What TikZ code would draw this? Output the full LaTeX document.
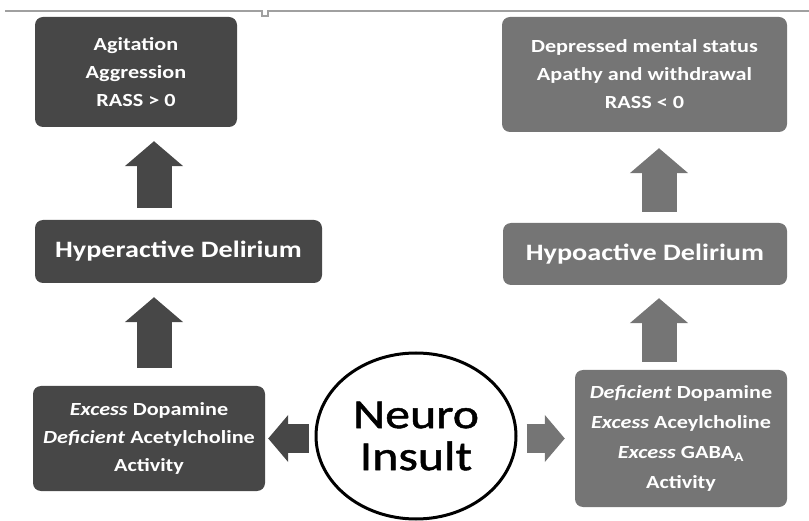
\documentclass[tikz,border=0pt]{standalone}
\usepackage{fontspec}
\setmainfont{Carlito}[FakeStretch=1.2]
\newfontfamily\neurofont{Carlito}[FakeStretch=1.2, FakeBold=1.2]
\usetikzlibrary{positioning,arrows.meta,shapes.geometric}

\definecolor{darkgrey}{HTML}{474747}
\definecolor{midgrey}{HTML}{757575}
\definecolor{rulegrey}{HTML}{A0A0A0}

\begin{document}
\begin{tikzpicture}[x=1pt, y=-1pt,
  box/.style={rounded corners=8pt, text=white, align=center, inner sep=0pt,
    font=\bfseries\fontsize{18.5}{28}\selectfont},
  darkbox/.style={box, fill=darkgrey},
  greybox/.style={box, fill=midgrey},
  headline/.style={font=\bfseries\fontsize{23.5}{28}\selectfont},
  uparrow/.style={line width=35pt, -{Triangle[length=25pt, width=57pt]}},
  sidearrow/.style={line width=29pt, -{Triangle[length=20pt, width=46pt]}}]

  \useasboundingbox (0,0) rectangle (809,521);

  % Thin rule along the top, with its small notch
  \draw[rulegrey, line width=1.5pt] (5,11) -- (262,11) -- (262,16) -- (268,16)
    -- (268,11) -- (809,11);

  % Left column (hyperactive)
  \node[darkbox, minimum width=202pt, minimum height=110pt] (agit) at (136,72)
    {Agitation\\Aggression\\RASS > 0};
  \node[darkbox, headline, minimum width=287pt, minimum height=63pt] (hyper) at (178.5,251.5)
    {Hyperactive Delirium};
  \node[darkbox, minimum width=232pt, minimum height=105pt] (excess) at (149,438.5)
    {\textit{Excess} Dopamine\\\textit{Deficient} Acetylcholine\\Activity};

  % Right column (hypoactive)
  \node[greybox, minimum width=285pt, minimum height=115pt] (depr) at (644.5,74.5)
    {Depressed mental status\\Apathy and withdrawal\\RASS < 0};
  \node[greybox, headline, minimum width=284pt, minimum height=62pt] (hypo) at (645,254)
    {Hypoactive Delirium};
  \node[greybox, minimum width=212pt, minimum height=137pt, font=\bfseries\fontsize{18.5}{30}\selectfont]
    (defic) at (681,438.5)
    {\textit{Deficient} Dopamine\\\textit{Excess} Aceylcholine\\\textit{Excess} GABA\textsubscript{A}\\Activity};

  % The insult in the middle
  \node[ellipse, draw=black, line width=3pt, minimum width=200pt, minimum height=166pt,
    align=center, font=\neurofont\fontsize{41.5}{42}\selectfont] (neuro) at (416,436) {Neuro\\Insult};

  % Columns of the block arrows
  \coordinate (lcol) at (154,0);
  \coordinate (rcol) at (659,0);

  % Block arrows
  \draw[uparrow, darkgrey, shorten <=18pt, shorten >=14pt] (excess.north -| lcol) -- (hyper.south -| lcol);
  \draw[uparrow, darkgrey, shorten <=12pt, shorten >=14pt] (hyper.north -| lcol) -- (agit.south -| lcol);
  \draw[uparrow, midgrey, shorten <=8pt, shorten >=13pt] (defic.north -| rcol) -- (hypo.south -| rcol);
  \draw[uparrow, midgrey, shorten <=11pt, shorten >=16pt] (hypo.north -| rcol) -- (depr.south -| rcol);
  \draw[sidearrow, darkgrey, shorten <=6pt, shorten >=3pt] (neuro.west |- excess.east) -- (excess.east);
  \draw[sidearrow, midgrey, shorten <=9pt, shorten >=10pt] (neuro.east |- defic.west) -- (defic.west);

\end{tikzpicture}
\end{document}
